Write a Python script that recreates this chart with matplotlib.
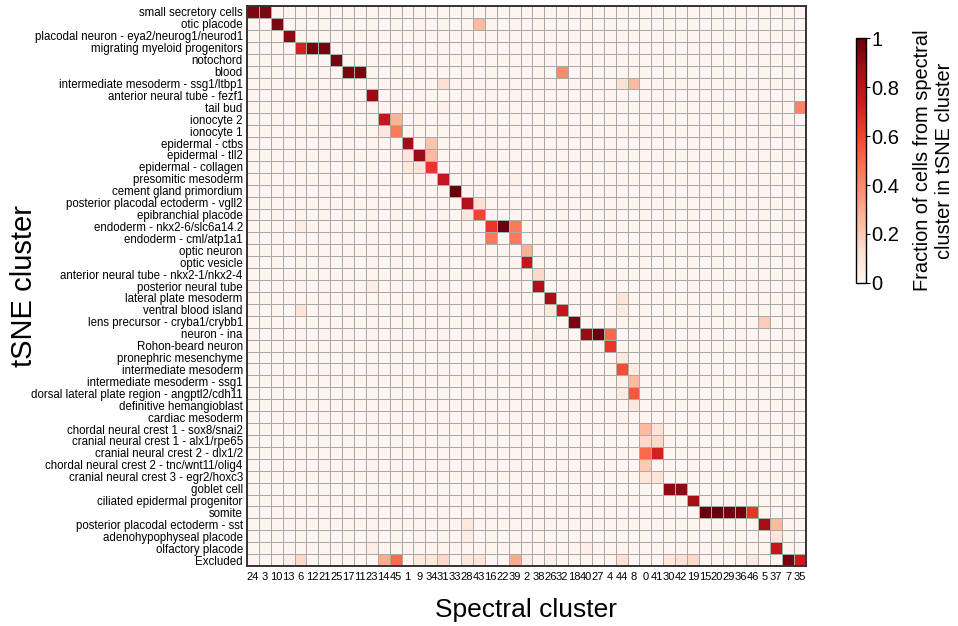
import numpy as np
import matplotlib
matplotlib.use("Agg")
import matplotlib.pyplot as plt

plt.rcParams['font.family'] = ['Liberation Sans', 'DejaVu Sans']

# tSNE clusters (rows, top to bottom)
tsne_clusters = [
    "small secretory cells", "otic placode",
    "placodal neuron - eya2/neurog1/neurod1", "migrating myeloid progenitors",
    "notochord", "blood", "intermediate mesoderm - ssg1/ltbp1",
    "anterior neural tube - fezf1", "tail bud", "ionocyte 2", "ionocyte 1",
    "epidermal - ctbs", "epidermal - tll2", "epidermal - collagen",
    "presomitic mesoderm", "cement gland primordium",
    "posterior placodal ectoderm - vgll2", "epibranchial placode",
    "endoderm - nkx2-6/slc6a14.2", "endoderm - cml/atp1a1", "optic neuron",
    "optic vesicle", "anterior neural tube - nkx2-1/nkx2-4",
    "posterior neural tube", "lateral plate mesoderm", "ventral blood island",
    "lens precursor - cryba1/crybb1", "neuron - ina", "Rohon-beard neuron",
    "pronephric mesenchyme", "intermediate mesoderm",
    "intermediate mesoderm - ssg1",
    "dorsal lateral plate region - angptl2/cdh11", "definitive hemangioblast",
    "cardiac mesoderm", "chordal neural crest 1 - sox8/snai2",
    "cranial neural crest 1 - alx1/rpe65", "cranial neural crest 2 - dlx1/2",
    "chordal neural crest 2 - tnc/wnt11/olig4",
    "cranial neural crest 3 - egr2/hoxc3", "goblet cell",
    "ciliated epidermal progenitor", "somite",
    "posterior placodal ectoderm - sst", "adenohypophyseal placode",
    "olfactory placode", "Excluded",
]

# spectral clusters (columns, left to right)
spectral_clusters = [24, 3, 10, 13, 6, 12, 21, 25, 17, 11, 23, 14, 45, 1, 9,
                     34, 31, 33, 28, 43, 16, 22, 39, 2, 38, 26, 32, 18, 40, 27,
                     4, 44, 8, 0, 41, 30, 42, 19, 15, 20, 29, 36, 46, 5, 37, 7,
                     35]

# non-zero fractions per tSNE cluster, keyed by spectral cluster id
fractions = {
    "small secretory cells": {24: 0.95, 3: 0.95},
    "otic placode": {10: 0.95, 43: 0.25},
    "placodal neuron - eya2/neurog1/neurod1": {13: 0.92},
    "migrating myeloid progenitors": {6: 0.72, 12: 0.97, 21: 0.97},
    "notochord": {25: 0.97},
    "blood": {17: 0.96, 11: 0.96, 32: 0.4},
    "intermediate mesoderm - ssg1/ltbp1": {31: 0.12, 44: 0.12, 8: 0.25},
    "anterior neural tube - fezf1": {23: 0.9},
    "tail bud": {31: 0.03, 35: 0.42},
    "ionocyte 2": {14: 0.77, 45: 0.27},
    "ionocyte 1": {14: 0.08, 45: 0.45},
    "epidermal - ctbs": {1: 0.88, 34: 0.22},
    "epidermal - tll2": {1: 0.08, 9: 0.9, 34: 0.25},
    "epidermal - collagen": {1: 0.08, 9: 0.1, 34: 0.65},
    "presomitic mesoderm": {31: 0.77, 39: 0.03},
    "cement gland primordium": {33: 1.0},
    "posterior placodal ectoderm - vgll2": {28: 0.84, 43: 0.12},
    "epibranchial placode": {28: 0.08, 43: 0.6},
    "endoderm - nkx2-6/slc6a14.2": {6: 0.05, 16: 0.65, 22: 1.0, 39: 0.45},
    "endoderm - cml/atp1a1": {16: 0.45, 39: 0.45},
    "optic neuron": {2: 0.28},
    "optic vesicle": {2: 0.77},
    "anterior neural tube - nkx2-1/nkx2-4": {38: 0.15},
    "posterior neural tube": {23: 0.05, 38: 0.84},
    "lateral plate mesoderm": {26: 0.87, 44: 0.1},
    "ventral blood island": {6: 0.1, 26: 0.08, 32: 0.77, 44: 0.06},
    "lens precursor - cryba1/crybb1": {18: 0.96, 5: 0.2},
    "neuron - ina": {38: 0.04, 40: 0.9, 27: 1.0, 4: 0.5},
    "Rohon-beard neuron": {4: 0.65},
    "pronephric mesenchyme": {44: 0.08},
    "intermediate mesoderm": {44: 0.58, 8: 0.06},
    "intermediate mesoderm - ssg1": {44: 0.03, 8: 0.25},
    "dorsal lateral plate region - angptl2/cdh11": {44: 0.06, 8: 0.55},
    "definitive hemangioblast": {8: 0.08},
    "cardiac mesoderm": {44: 0.03},
    "chordal neural crest 1 - sox8/snai2": {0: 0.25, 41: 0.1},
    "cranial neural crest 1 - alx1/rpe65": {0: 0.15, 41: 0.15},
    "cranial neural crest 2 - dlx1/2": {0: 0.5, 41: 0.72},
    "chordal neural crest 2 - tnc/wnt11/olig4": {0: 0.2},
    "cranial neural crest 3 - egr2/hoxc3": {0: 0.1, 41: 0.1},
    "goblet cell": {30: 0.92, 42: 0.92},
    "ciliated epidermal progenitor": {19: 0.87},
    "somite": {15: 1.0, 20: 1.0, 29: 0.98, 36: 0.98, 46: 0.65},
    "posterior placodal ectoderm - sst": {28: 0.08, 5: 0.87, 37: 0.25},
    "adenohypophyseal placode": {28: 0.05, 37: 0.1},
    "olfactory placode": {23: 0.04, 40: 0.04, 37: 0.77},
    "Excluded": {13: 0.04, 6: 0.15, 14: 0.3, 45: 0.5, 9: 0.08, 34: 0.08,
                 31: 0.15, 28: 0.08, 43: 0.1, 39: 0.3, 2: 0.06, 26: 0.04,
                 44: 0.12, 30: 0.08, 42: 0.12, 19: 0.15, 46: 0.08, 7: 0.98,
                 35: 0.75},
}

mat = np.zeros((len(tsne_clusters), len(spectral_clusters)))
for i, name in enumerate(tsne_clusters):
    for sc, v in fractions[name].items():
        mat[i, spectral_clusters.index(sc)] = v

fig = plt.figure(figsize=(9.58, 6.26), dpi=100)
ax = fig.add_axes([0.2578, 0.0958, 0.5835, 0.8946])

mesh = ax.pcolormesh(np.arange(len(spectral_clusters) + 1),
                     np.arange(len(tsne_clusters) + 1), mat,
                     cmap='Reds', vmin=0, vmax=1,
                     edgecolors='#a9a9a9', linewidth=0.6)
ax.set_xlim(0, len(spectral_clusters))
ax.set_ylim(len(tsne_clusters), 0)

ax.set_xticks(np.arange(len(spectral_clusters)) + 0.5)
ax.set_xticklabels([str(s) for s in spectral_clusters], fontsize=8)
ax.set_yticks(np.arange(len(tsne_clusters)) + 0.5)
ax.set_yticklabels(tsne_clusters, fontsize=8.3)
ax.tick_params(axis='y', length=0, pad=3)
ax.tick_params(axis='x', length=0, pad=4)
for s in ax.spines.values():
    s.set_linewidth(1.4)
    s.set_color('#333333')

ax.set_xlabel("Spectral cluster", fontsize=19, labelpad=12)
ax.set_ylabel("tSNE cluster", fontsize=21)
ax.yaxis.set_label_coords(-0.374, 0.5)

cax = fig.add_axes([0.8935, 0.548, 0.0105, 0.391])
cb = fig.colorbar(mesh, cax=cax, ticks=[0, 0.2, 0.4, 0.6, 0.8, 1])
cb.ax.set_yticklabels(['0', '0.2', '0.4', '0.6', '0.8', '1'], fontsize=14.5)
cb.ax.tick_params(length=3, width=0.8, pad=1)
cb.outline.set_linewidth(1.0)
cb.set_label("Fraction of cells from spectral\ncluster in tSNE cluster",
             fontsize=14.4, labelpad=10)

fig.savefig("out.png", dpi=100)
